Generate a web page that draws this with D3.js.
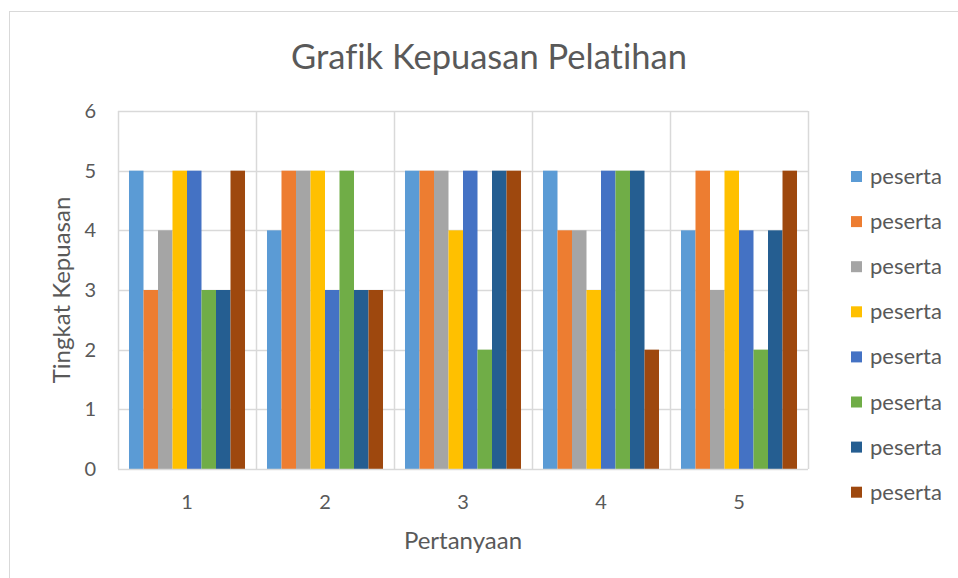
<!DOCTYPE html>
<html>
<head>
<meta charset="utf-8">
<script src="https://cdn.jsdelivr.net/npm/d3@7"></script>
<style>
  html, body { margin: 0; padding: 0; background: #fff; }
  svg { display: block; }
  text { font-family: "Lato", "Open Sans", sans-serif; fill: #595959; font-variant-ligatures: none; }
</style>
</head>
<body>
<svg id="chart" width="958" height="578"></svg>
<script>
const categories = ["1", "2", "3", "4", "5"];
const seriesNames = ["peserta", "peserta", "peserta", "peserta", "peserta", "peserta", "peserta", "peserta"];
const seriesColors = ["#5B9BD5", "#ED7D31", "#A5A5A5", "#FFC000", "#4472C4", "#70AD47", "#255E91", "#9E480E"];
const series1 = [5, 4, 5, 5, 4];
const series2 = [3, 5, 5, 4, 5];
const series3 = [4, 5, 5, 4, 3];
const series4 = [5, 5, 4, 3, 5];
const series5 = [5, 3, 5, 5, 4];
const series6 = [3, 5, 2, 5, 2];
const series7 = [3, 3, 5, 5, 4];
const series8 = [5, 3, 5, 2, 5];
const yTicks = [0, 1, 2, 3, 4, 5, 6];
const titleText = "Grafik Kepuasan Pelatihan";
const xTitle = "Pertanyaan";
const yTitle = "Tingkat Kepuasan";

const allSeries = [series1, series2, series3, series4, series5, series6, series7, series8];

const svg = d3.select("#chart");
const plot = { left: 118, right: 808, top: 111, bottom: 469 };

// chart border
svg.append("rect")
  .attr("x", 9.5).attr("y", 11.5)
  .attr("width", 1000).attr("height", 1000)
  .attr("fill", "#fff").attr("stroke", "#d9d9d9").attr("stroke-width", 1);

const x0 = d3.scaleBand().domain(categories).range([plot.left, plot.right]).paddingInner(0).paddingOuter(0);
const x1 = d3.scaleBand().domain(d3.range(allSeries.length)).range([0, x0.bandwidth()]).paddingInner(0).paddingOuter(0.758);
const y = d3.scaleLinear().domain([0, 6]).range([plot.bottom, plot.top]);

// horizontal gridlines
svg.append("g").selectAll("line").data(yTicks.filter(d => d > 0)).join("line")
  .attr("x1", plot.left).attr("x2", plot.right)
  .attr("y1", d => Math.round(y(d)) + 0.5).attr("y2", d => Math.round(y(d)) + 0.5)
  .attr("stroke", "#d9d9d9").attr("stroke-width", 1.5);

// vertical gridlines at category boundaries
const bounds = categories.map(c => x0(c)).concat([plot.right]);
svg.append("g").selectAll("line").data(bounds).join("line")
  .attr("x1", d => Math.round(d) + 0.5).attr("x2", d => Math.round(d) + 0.5)
  .attr("y1", plot.top).attr("y2", plot.bottom)
  .attr("stroke", "#d9d9d9").attr("stroke-width", 1.5);

// bars
const flat = [];
allSeries.forEach((s, si) => s.forEach((v, ci) => flat.push({ si, c: categories[ci], v })));
svg.append("g").selectAll("rect").data(flat).join("rect")
  .attr("x", d => x0(d.c) + x1(d.si))
  .attr("width", x1.bandwidth())
  .attr("y", d => y(d.v))
  .attr("height", d => y(0) - y(d.v))
  .attr("fill", d => seriesColors[d.si]);

// x axis line
svg.append("line")
  .attr("x1", plot.left).attr("x2", plot.right)
  .attr("y1", plot.bottom + 0.5).attr("y2", plot.bottom + 0.5)
  .attr("stroke", "#d9d9d9").attr("stroke-width", 1.5);

// y axis labels
const yAxis = d3.axisLeft(y).tickValues(yTicks).tickSize(0).tickPadding(0).tickFormat(d3.format("d"));
const yg = svg.append("g").attr("transform", `translate(${plot.left - 22},0)`).call(yAxis);
yg.select(".domain").remove();
yg.selectAll("text").attr("font-size", 20).attr("font-family", "Lato").attr("fill", "#595959");

// x axis labels
const xAxis = d3.axisBottom(x0).tickSize(0).tickPadding(0);
const xg = svg.append("g").attr("transform", `translate(0,${plot.bottom + 26})`).call(xAxis);
xg.select(".domain").remove();
xg.selectAll("text").attr("font-size", 20).attr("font-family", "Lato").attr("fill", "#595959");

// title
svg.append("text").attr("x", 489).attr("y", 69).attr("text-anchor", "middle")
  .attr("font-size", 34.5).text(titleText);

// axis titles
svg.append("text").attr("x", (plot.left + plot.right) / 2).attr("y", 549).attr("text-anchor", "middle")
  .attr("font-size", 24).text(xTitle);
svg.append("text").attr("transform", `translate(70,${(plot.top + plot.bottom) / 2}) rotate(-90)`)
  .attr("text-anchor", "middle").attr("font-size", 24).text(yTitle);

// legend
const legend = svg.append("g").selectAll("g").data(seriesNames).join("g")
  .attr("transform", (d, i) => `translate(851,${177 + i * 45.1})`);
legend.append("rect").attr("x", 0).attr("y", -6).attr("width", 11).attr("height", 11)
  .attr("fill", (d, i) => seriesColors[i]);
legend.append("text").attr("x", 19).attr("y", 7).attr("font-size", 22).text(d => d);
</script>
</body>
</html>
